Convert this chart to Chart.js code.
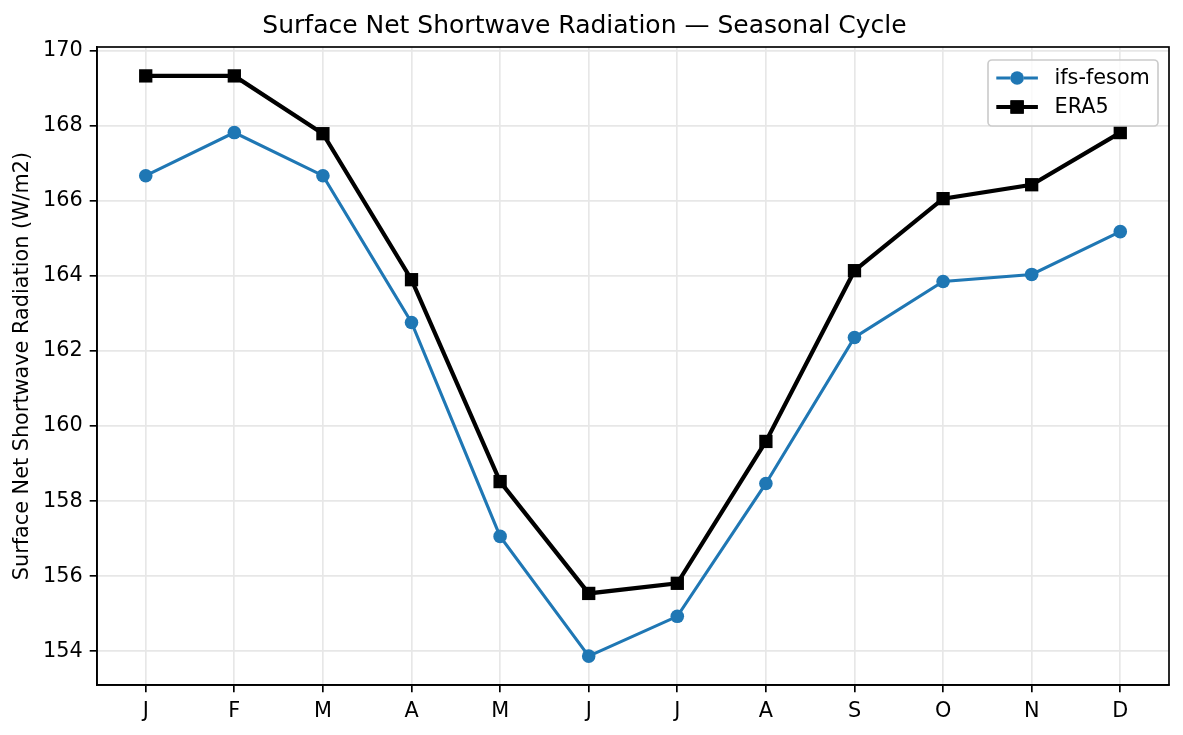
<!DOCTYPE html>
<html>
<head>
<meta charset="utf-8">
<script src="https://cdn.jsdelivr.net/npm/chart.js@4.4.1/dist/chart.umd.min.js"></script>
<style>
  html, body { margin: 0; padding: 0; background: #fff; }
  #chart { display: block; }
</style>
</head>
<body>
<canvas id="chart" width="1183" height="735"></canvas>
<script>
const months = ['J', 'F', 'M', 'A', 'M', 'J', 'J', 'A', 'S', 'O', 'N', 'D'];
const ifsFesom = [166.67, 167.82, 166.67, 162.76, 157.06, 153.87, 154.93, 158.47, 162.36, 163.85, 164.04, 165.18];
const era5 = [169.33, 169.33, 167.79, 163.90, 158.52, 155.54, 155.81, 159.59, 164.14, 166.06, 166.43, 167.82];
const yTicks = [154, 156, 158, 160, 162, 164, 166, 168, 170];
const yMin = 153.1, yMax = 170.1;

const fontSize = 20.8;
Chart.defaults.font.family = "'DejaVu Sans', sans-serif";
Chart.defaults.font.size = fontSize;
Chart.defaults.color = '#000';

const gridColor = '#e7e7e7';
const lw = 1.67;

// spines on all four sides, drawn above the lines like matplotlib
const framePlugin = {
    id: 'frame',
    afterDatasetsDraw(chart) {
        const { ctx, chartArea: a } = chart;
        ctx.save();
        ctx.strokeStyle = '#000';
        ctx.lineWidth = lw;
        ctx.strokeRect(a.left, a.top, a.right - a.left, a.bottom - a.top);
        ctx.restore();
    }
};

// matplotlib-style legend: line with marker, in a rounded box at upper right
const legendPlugin = {
    id: 'mplLegend',
    afterDraw(chart) {
        const { ctx, chartArea: a } = chart;
        const boxW = 170, boxH = 66;
        const x0 = a.right - 11 - boxW, y0 = a.top + 13;
        ctx.save();
        ctx.beginPath();
        ctx.roundRect(x0, y0, boxW, boxH, 4);
        ctx.fillStyle = 'rgba(255,255,255,0.8)';
        ctx.fill();
        ctx.strokeStyle = '#cccccc';
        ctx.lineWidth = lw;
        ctx.stroke();
        ctx.font = fontSize + "px 'DejaVu Sans'";
        ctx.textBaseline = 'middle';
        ctx.textAlign = 'left';
        chart.data.datasets.forEach((ds, i) => {
            const cy = y0 + 18 + i * 29;
            const hx = x0 + 8.3;
            ctx.strokeStyle = ds.borderColor;
            ctx.lineWidth = ds.borderWidth;
            ctx.beginPath();
            ctx.moveTo(hx, cy);
            ctx.lineTo(hx + 41.6, cy);
            ctx.stroke();
            Chart.helpers.drawPoint(ctx, {
                pointStyle: ds.pointStyle,
                radius: ds.pointRadius,
                borderWidth: 0
            }, hx + 20.8, cy);
            ctx.fillStyle = ds.pointBackgroundColor;
            ctx.fill();
            ctx.fillStyle = '#000';
            ctx.fillText(ds.label, hx + 41.6 + 16.6, cy + 1);
        });
        ctx.restore();
    }
};

new Chart(document.getElementById('chart'), {
    type: 'line',
    data: {
        datasets: [{
            label: 'ifs-fesom',
            data: ifsFesom.map((v, i) => ({ x: i, y: v })),
            borderColor: '#1f77b4',
            backgroundColor: '#1f77b4',
            pointBackgroundColor: '#1f77b4',
            pointBorderColor: '#1f77b4',
            borderWidth: 3.1,
            pointStyle: 'circle',
            pointRadius: 6.8,
            pointBorderWidth: 0,
            tension: 0
        }, {
            label: 'ERA5',
            data: era5.map((v, i) => ({ x: i, y: v })),
            borderColor: '#000',
            backgroundColor: '#000',
            pointBackgroundColor: '#000',
            pointBorderColor: '#000',
            borderWidth: 4.2,
            pointStyle: 'rect',
            pointRadius: 9.4,
            pointBorderWidth: 0,
            tension: 0
        }]
    },
    options: {
        responsive: false,
        animation: false,
        events: [],
        layout: { padding: { left: 0, right: 14, top: 0, bottom: 0 } },
        plugins: {
            legend: { display: false },
            tooltip: { enabled: false },
            title: {
                display: true,
                text: 'Surface Net Shortwave Radiation — Seasonal Cycle',
                font: { size: 25, weight: 'normal', lineHeight: 1.2 },
                color: '#000',
                padding: { top: 11, bottom: 6 }
            }
        },
        scales: {
            x: {
                type: 'linear',
                min: -0.55,
                max: 11.55,
                afterBuildTicks: (scale) => {
                    scale.ticks = months.map((_, i) => ({ value: i }));
                },
                afterFit: (scale) => { scale.height = 50; },
                ticks: {
                    padding: 7,
                    autoSkip: false,
                    maxRotation: 0,
                    callback: (value) => months[value]
                },
                grid: {
                    color: gridColor,
                    lineWidth: lw,
                    tickColor: '#000',
                    tickLength: 7.3,
                    tickWidth: lw
                },
                border: { display: true, color: '#000', width: lw }
            },
            y: {
                min: yMin,
                max: yMax,
                afterBuildTicks: (scale) => {
                    scale.ticks = yTicks.map(v => ({ value: v }));
                },
                afterFit: (scale) => { scale.width = 97; },
                ticks: {
                    padding: 7,
                    callback: (value) => String(value)
                },
                grid: {
                    color: gridColor,
                    lineWidth: lw,
                    tickColor: '#000',
                    tickLength: 7.3,
                    tickWidth: lw
                },
                border: { display: true, color: '#000', width: lw },
                title: {
                    display: true,
                    text: 'Surface Net Shortwave Radiation (W/m2)',
                    font: { size: fontSize, lineHeight: 1.2 },
                    color: '#000',
                    padding: { top: 9.8, bottom: 0 }
                }
            }
        }
    },
    plugins: [framePlugin, legendPlugin]
});
</script>
</body>
</html>
